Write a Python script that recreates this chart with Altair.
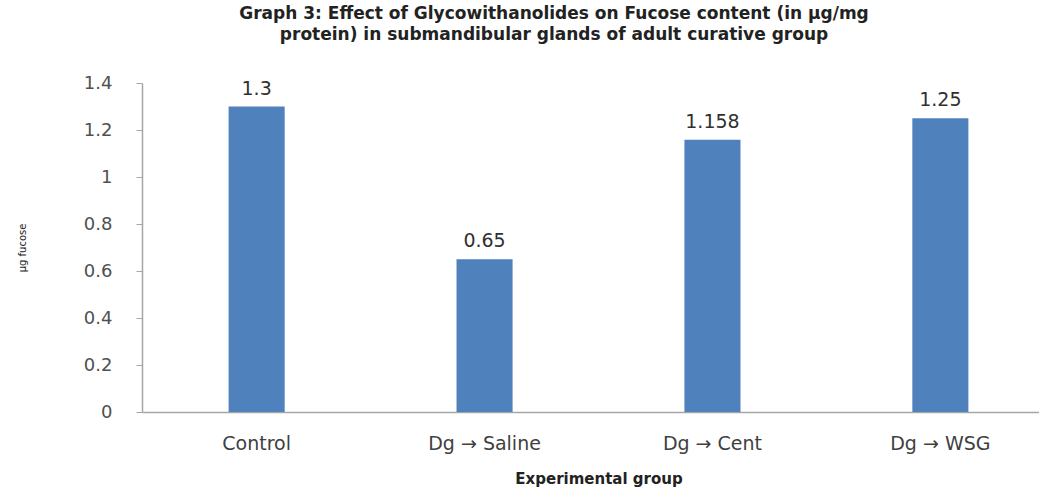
import altair as alt
import pandas as pd

groups = ["Control", "Dg \u2192 Saline", "Dg \u2192 Cent", "Dg \u2192 WSG"]
values = [1.3, 0.65, 1.158, 1.25]
labels = ["1.3", "0.65", "1.158", "1.25"]
y_ticks = [0, 0.2, 0.4, 0.6, 0.8, 1, 1.2, 1.4]

df = pd.DataFrame({"group": groups, "value": values, "label": labels})

x = alt.X("group:N", sort=groups, title="Experimental group",
          scale=alt.Scale(range=[0, 913], paddingInner=0.754, paddingOuter=0.38),
          axis=alt.Axis(labelAngle=0, labelFont="DejaVu Sans", labelFontSize=19,
                        labelColor="#404040", labelPadding=22, ticks=False,
                        domainColor="#a6a6a6", domainWidth=1.5,
                        titleFont="DejaVu Sans", titleFontWeight="bold",
                        titleFontSize=15, titleColor="#222222", titlePadding=18))
y = alt.Y("value:Q", title="\u00b5g fucose",
          scale=alt.Scale(domain=[0, 1.4], nice=False),
          axis=alt.Axis(values=y_ticks, grid=False, labelFont="DejaVu Sans",
                        labelFontSize=18, labelColor="#505050", labelPadding=24,
                        tickSize=6, tickColor="#a6a6a6", domainColor="#a6a6a6",
                        domainWidth=1.5,
                        labelExpr="datum.value == 0 ? '0' : format(datum.value, '.1~f')",
                        titleFont="DejaVu Sans", titleFontSize=10, titleFontWeight="normal",
                        titleColor="#222222", titlePadding=56))

bars = alt.Chart(df).mark_bar(color="#4F81BD").encode(x=x, y=y)
text = alt.Chart(df).mark_text(dy=-18, font="DejaVu Sans", fontSize=19,
                               color="#303030").encode(
    x=alt.X("group:N", sort=groups), y="value:Q", text="label:N")

chart = (bars + text).properties(
    width=896, height=329,
    autosize=alt.AutoSizeParams(type="none"),
    padding={"left": 142, "top": 83, "right": 1, "bottom": 76},
    title=alt.TitleParams(
        ["Graph 3: Effect of Glycowithanolides on Fucose content  (in \u00b5g/mg",
         "protein) in submandibular glands of adult curative group"],
        font="DejaVu Sans", fontSize=17, fontWeight="bold", color="#222222",
        anchor="middle", dx=-36, offset=30, lineHeight=21),
).configure_view(stroke=None)

chart.save("out.html", embed_options={"renderer": "svg", "actions": False})
